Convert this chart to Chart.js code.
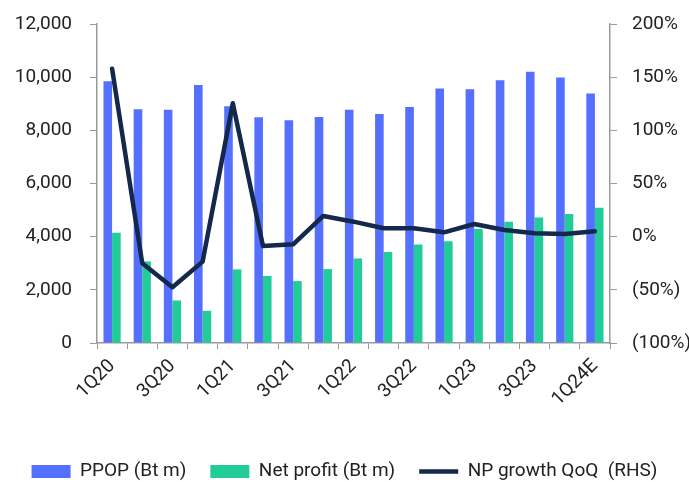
<!DOCTYPE html>
<html>
<head>
<meta charset="utf-8">
<script src="https://cdn.jsdelivr.net/npm/chart.js@4/dist/chart.umd.min.js"></script>
<style>
  html, body { margin: 0; padding: 0; background: #fff; }
  #wrap { width: 689px; height: 482px; }
</style>
</head>
<body>
<div id="wrap"><canvas id="chart"></canvas></div>
<script>
// quarters
const quarters = ["1Q20", "2Q20", "3Q20", "4Q20", "1Q21", "2Q21", "3Q21", "4Q21", "1Q22", "2Q22", "3Q22", "4Q22", "1Q23", "2Q23", "3Q23", "4Q23", "1Q24E"];
// PPOP (Bt m)
const ppop = [9850, 8790, 8770, 9710, 8910, 8490, 8380, 8500, 8770, 8610, 8880, 9570, 9550, 9880, 10200, 9990, 9390];
// Net profit (Bt m)
const netProfit = [4150, 3070, 1600, 1210, 2770, 2520, 2330, 2780, 3180, 3420, 3710, 3830, 4290, 4560, 4720, 4850, 5090];
// NP growth QoQ (%)
const npGrowth = [158, -25, -47.5, -23.5, 125.5, -8.7, -7.2, 19.5, 14.1, 7.9, 7.9, 4.1, 11.9, 6.3, 3.2, 2.5, 5];

const leftTicks = [0, 2000, 4000, 6000, 8000, 10000, 12000];
const rightTicks = [-100, -50, 0, 50, 100, 150, 200];

const FONT = "Roboto";
const TEXT = "#222";
const AXIS = "#9a9a9a";

// push the legend row a bit lower than chart.js puts it
const legendShift = {
    id: "legendShift",
    afterLayout(chart) {
        chart.legend.top += 9;
        chart.legend.bottom += 9;
    },
};

// fixed axis width, and no extra top/bottom room for the end labels
const fixY = (w) => (scale) => {
    scale.width = w;
    scale.paddingTop = 0;
    scale.paddingBottom = 0;
};

new Chart(document.getElementById("chart").getContext("2d"), {
    type: "bar",
    data: {
        labels: quarters,
        datasets: [
            {
                label: "PPOP (Bt m)",
                data: ppop,
                backgroundColor: "#5570ff",
                yAxisID: "y",
                order: 1,
                barPercentage: 1.0,
                categoryPercentage: 0.57,
                pointStyle: "rect",
            },
            {
                label: "Net profit (Bt m)",
                data: netProfit,
                backgroundColor: "#22cc98",
                yAxisID: "y",
                order: 1,
                barPercentage: 1.0,
                categoryPercentage: 0.57,
                pointStyle: "rect",
            },
            {
                type: "line",
                label: "NP growth QoQ  (RHS)",
                data: npGrowth,
                borderColor: "#14284b",
                backgroundColor: "#14284b",
                borderWidth: 4.5,
                borderJoinStyle: "round",
                borderCapStyle: "round",
                pointRadius: 0,
                tension: 0,
                yAxisID: "y1",
                order: 0, // on top of the bars
                pointStyle: "line",
            },
        ],
    },
    plugins: [legendShift],
    options: {
        responsive: true,
        maintainAspectRatio: false,
        animation: false,
        layout: {
            padding: { top: 24, left: 0, right: 0, bottom: 0 },
        },
        plugins: {
            tooltip: { enabled: false },
            legend: {
                position: "bottom",
                labels: {
                    usePointStyle: true,
                    pointStyleWidth: 39,
                    boxHeight: 13,
                    padding: 24,
                    color: TEXT,
                    font: { family: FONT, size: 19 },
                    sort: (a, b) => a.datasetIndex - b.datasetIndex,
                },
            },
        },
        scales: {
            x: {
                grid: { drawOnChartArea: false, drawTicks: true, tickLength: 6, color: AXIS, offset: true },
                border: { display: true, color: AXIS, width: 1.5 },
                ticks: {
                    autoSkip: false,
                    maxRotation: 45,
                    minRotation: 45,
                    padding: 6,
                    color: TEXT,
                    font: { family: FONT, size: 19 },
                    callback: (v, i) => (i % 2 === 0 ? quarters[i] : ""),
                },
                afterFit: (scale) => { scale.height = 86; },
            },
            y: {
                position: "left",
                min: 0,
                max: 12000,
                afterBuildTicks: (scale) => { scale.ticks = leftTicks.map(v => ({ value: v })); },
                grid: { drawOnChartArea: false, drawTicks: true, tickLength: 7, color: AXIS },
                border: { display: true, color: AXIS, width: 1.5 },
                ticks: {
                    padding: 18,
                    color: TEXT,
                    font: { family: FONT, size: 19 },
                    callback: (v) => v.toLocaleString("en-US"),
                },
                afterFit: fixY(97),
            },
            y1: {
                position: "right",
                min: -100,
                max: 200,
                afterBuildTicks: (scale) => { scale.ticks = rightTicks.map(v => ({ value: v })); },
                grid: { drawOnChartArea: false, drawTicks: true, tickLength: 7, color: AXIS },
                border: { display: true, color: AXIS, width: 1.5 },
                ticks: {
                    padding: 15,
                    color: TEXT,
                    font: { family: FONT, size: 19 },
                    callback: (v) => (v < 0 ? "(" + (-v) + "%)" : v + "%"),
                },
                afterFit: fixY(79),
            },
        },
    },
});
</script>
</body>
</html>
